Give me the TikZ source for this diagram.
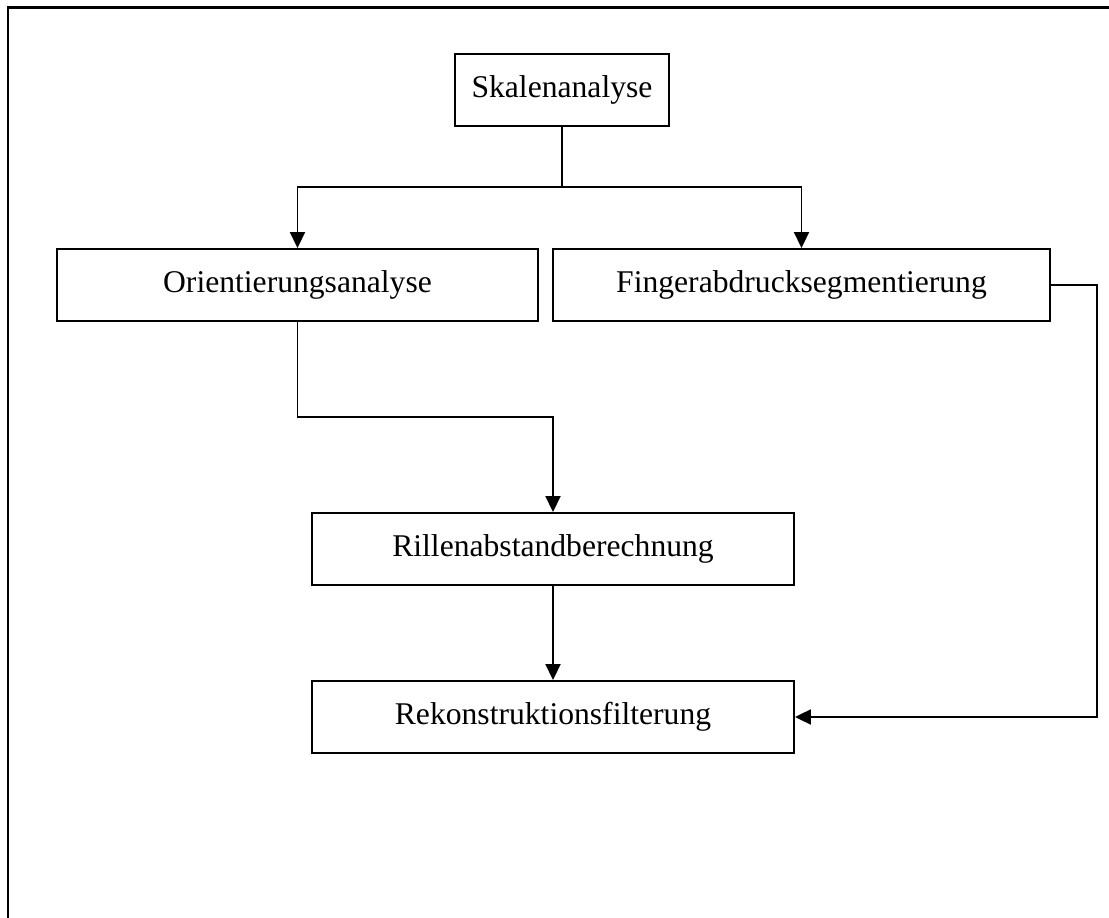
\documentclass[tikz,border=0pt]{standalone}
\usepackage{fontspec}
\setmainfont{Liberation Serif}
\usepackage{tikz}
\usetikzlibrary{arrows.meta,positioning}
\definecolor{Ink}{HTML}{000000}
\tikzset{box/.style={draw=Ink,line width=1.1pt,minimum height=1.44cm,align=center,inner sep=0pt},flow/.style={-{Triangle[length=3.2mm,width=3mm]},line width=1.1pt,draw=Ink},link/.style={line width=1.1pt,draw=Ink},frame/.style={line width=1.7pt,draw=Ink}}

\begin{document}
\begin{tikzpicture}[x=0.02cm,y=-0.02cm,every node/.style={font=\fontsize{18}{22}\selectfont}]
      \useasboundingbox (0,0) rectangle (1109,918);
      \draw[frame](1109,8)--(8,8)--(8,918);
      \node[box,minimum width=4.28cm](skalen) at (562,90){Skalenanalyse};
      \node[box,minimum width=9.62cm](orient) at (297.5,285){Orientierungsanalyse};
      \node[box,minimum width=9.94cm](finger) at (801.5,285){Fingerabdrucksegmentierung};
      \node[box,minimum width=9.64cm](rillen) at (553,549){Rillenabstandberechnung};
      \node[box,minimum width=9.64cm](rekon) at (553,717){Rekonstruktionsfilterung};
      \coordinate (split) at (562,187);
      \coordinate (orientturn) at (297.5,417);
      \coordinate (fingerturn) at (1097,285);
      \draw[link](skalen.south)--(split);
      \draw[flow](split)-|(orient.north);\draw[flow](split)-|(finger.north);
      \draw[flow](orient.south)--(orientturn)-|(rillen.north);
      \draw[flow](rillen.south)--(rekon.north);
      \draw[flow](finger.east)--(fingerturn)|-(rekon.east);
    \end{tikzpicture}
\end{document}
